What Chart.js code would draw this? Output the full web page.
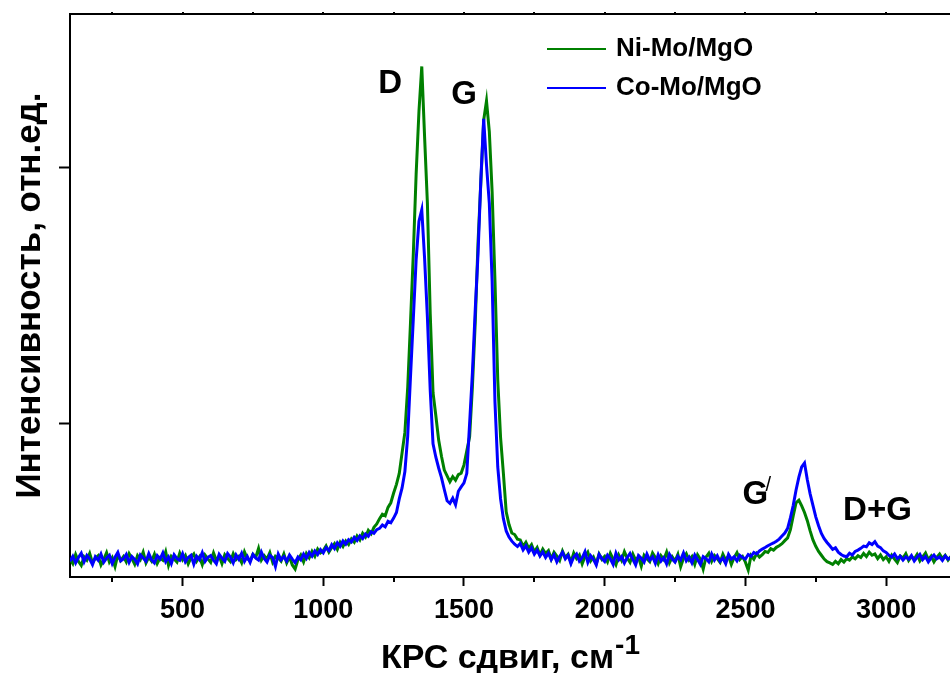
<!DOCTYPE html>
<html lang="ru">
<head>
<meta charset="utf-8">
<title>КРС спектры Ni-Mo/MgO и Co-Mo/MgO</title>
<script src="https://cdn.jsdelivr.net/npm/chart.js@4.4.1/dist/chart.umd.min.js"></script>
<style>
  html, body { margin: 0; padding: 0; background: #fff; overflow: hidden; }
  #wrap { width: 950px; height: 673px; position: relative; }
</style>
</head>
<body>
<div id="wrap"><canvas id="ramanChart"></canvas></div>
<script>
// Сетка сдвига, см-1: от 100 с шагом 10
const shiftStart = 100;
const shiftStep = 10;

const seriesLabels = ['Ni-Mo/MgO', 'Co-Mo/MgO'];

// Интенсивность, отн.ед. (по 10 точек на строку = 100 см-1)
const niMoValues = [
  470, 452, 488, 461, 445, 479, 466, 492, 455, 473,
  483, 447, 469, 495, 458, 476, 441, 487, 464, 480,
  459, 491, 472, 450, 484, 468, 497, 455, 478, 462,
  489, 453, 475, 466, 499, 446, 481, 470, 458, 493,
  467, 484, 451, 476, 490, 462, 479, 448, 486, 471,
  457, 494, 465, 482, 452, 487, 473, 460, 491, 468,
  480, 456, 498, 472, 463, 489, 476, 512, 466, 484,
  470, 495, 458, 481, 474, 462, 490, 455, 479, 447,
  431, 468, 486, 459, 492, 475, 500, 481, 509, 494,
  503, 521, 497, 515, 530, 508, 536, 519, 541, 527,
  549, 536, 560, 545, 571, 556, 582, 569, 594, 607,
  628, 645, 639, 672, 690, 728, 762, 805, 885, 965,
  1140, 1395, 1665, 1975, 2220, 2395, 2120, 1860, 1430, 1120,
  1030, 935, 872, 818, 795, 772, 792, 778, 800, 806,
  838, 893, 948, 1145, 1395, 1710, 1945, 2185, 2260, 2140,
  1905, 1560, 1170, 945, 805, 655, 605, 572, 566, 548,
  545, 520, 536, 512, 527, 498, 515, 486, 509, 492,
  503, 470, 497, 482, 465, 501, 476, 489, 458, 494,
  472, 486, 451, 480, 497, 463, 478, 452, 490, 469,
  481, 459, 493, 470, 448, 486, 465, 499, 474, 457,
  490, 466, 478, 442, 485, 471, 460, 494, 476, 452,
  483, 468, 497, 455, 479, 462, 488, 440, 473, 491,
  466, 480, 449, 487, 470, 431, 478, 493, 461, 484,
  472, 457, 489, 466, 482, 449, 476, 495, 468, 480,
  458, 427, 484, 470, 492, 478, 487, 500, 496, 511,
  505, 516, 522, 530, 542, 553, 585, 640, 690, 700,
  678, 652, 620, 580, 545, 520, 500, 485, 470, 460,
  455, 449, 461, 452, 468, 458, 472, 466, 478, 471,
  483, 476, 492, 480, 497, 485, 490, 472, 486, 468,
  479, 461, 485, 470, 456, 482, 474, 491, 465, 480,
  470, 488, 463, 479, 494, 468, 482, 459, 477, 490,
  472, 485, 466, 481, 474
];

const coMoValues = [
  462, 481, 455, 476, 493, 459, 484, 470, 448, 479,
  466, 490, 458, 474, 485, 452, 477, 496, 463, 471,
  488, 457, 480, 469, 451, 486, 474, 461, 492, 467,
  455, 483, 470, 494, 460, 478, 452, 487, 472, 465,
  491, 459, 476, 485, 450, 481, 468, 495, 461, 477,
  484, 466, 452, 489, 474, 461, 492, 478, 455, 486,
  469, 493, 461, 480, 457, 488, 475, 466, 497, 472,
  458, 485, 476, 441, 490, 467, 479, 462, 486, 470,
  456, 478, 467, 490, 473, 496, 481, 502, 488, 507,
  494, 515, 503, 526, 511, 534, 520, 541, 528, 546,
  537, 555, 543, 561, 550, 568, 559, 577, 571, 585,
  590, 603, 596, 618, 612, 630, 652, 705, 748, 812,
  950, 1185, 1410, 1640, 1790, 1835, 1645, 1415, 1130, 920,
  868, 826, 788, 742, 698, 688, 708, 682, 735, 752,
  768, 805, 1000, 1200, 1445, 1665, 1955, 2190, 2010, 1860,
  1555, 1085, 830, 705, 628, 580, 556, 540, 528, 519,
  531, 506, 522, 497, 514, 489, 505, 482, 498, 476,
  493, 468, 487, 459, 480, 496, 471, 485, 452, 478,
  490, 462, 475, 499, 457, 483, 469, 447, 488, 472,
  460, 485, 471, 449, 493, 467, 480, 455, 476, 492,
  469, 447, 484, 473, 458, 490, 466, 479, 453, 487,
  462, 476, 451, 489, 470, 458, 481, 467, 494, 463,
  478, 455, 486, 468, 449, 480, 472, 459, 490, 466,
  483, 461, 474, 452, 488, 470, 479, 463, 485, 476,
  470, 488, 481, 496, 490, 502, 509, 515, 522, 528,
  533, 540, 548, 560, 572, 590, 632, 680, 740, 790,
  830, 845, 780, 725, 680, 635, 600, 570, 550, 535,
  522, 508, 514, 497, 488, 482, 479, 493, 486, 500,
  505, 512, 521, 518, 534, 527, 538, 521, 515, 502,
  496, 485, 478, 490, 472, 481, 466, 479, 470, 484,
  463, 477, 489, 468, 480, 459, 475, 486, 471, 478,
  465, 482, 470, 476, 468
];

const xTickValues = [500, 1000, 1500, 2000, 2500, 3000];
const xMinorTickValues = [250, 750, 1250, 1750, 2250, 2750];
const yTickValues = [1000, 2000];

const ramanShift = niMoValues.map((_, i) => shiftStart + i * shiftStep);

const FONT = "Arial, 'Liberation Sans', sans-serif";
const GREEN = '#008000';
const BLUE = '#0000ff';

function toPoints(values) {
    return values.map((v, i) => ({ x: ramanShift[i], y: v }));
}

// Рамка сверху, малые риски, легенда, подписи пиков и подпись оси X
const decorations = {
    id: 'decorations',
    afterDraw(chart) {
        const { ctx, chartArea: a, scales: { x, y } } = chart;
        ctx.save();
        ctx.strokeStyle = '#000';
        ctx.lineWidth = 2;

        ctx.beginPath();
        ctx.moveTo(a.left - 1, a.top);
        ctx.lineTo(a.right, a.top);
        ctx.stroke();

        ctx.beginPath();
        xMinorTickValues.forEach(v => {
            const px = Math.round(x.getPixelForValue(v));
            ctx.moveTo(px, a.bottom);
            ctx.lineTo(px, a.bottom + 5);
            ctx.moveTo(px, a.top);
            ctx.lineTo(px, a.top - 2);
        });
        xTickValues.forEach(v => {
            const px = Math.round(x.getPixelForValue(v));
            ctx.moveTo(px, a.top);
            ctx.lineTo(px, a.top - 2);
        });
        ctx.stroke();

        // легенда
        const colors = [GREEN, BLUE];
        ctx.font = `bold 26px ${FONT}`;
        ctx.textBaseline = 'alphabetic';
        ctx.fillStyle = '#000';
        chart.data.datasets.forEach((ds, i) => {
            const ly = 49 + i * 39;
            ctx.strokeStyle = colors[i];
            ctx.lineWidth = 2;
            ctx.beginPath();
            ctx.moveTo(547, ly);
            ctx.lineTo(606, ly);
            ctx.stroke();
            ctx.fillText(ds.label, 616, ly + 7);
        });

        // подписи пиков
        ctx.font = `bold 33px ${FONT}`;
        ctx.textAlign = 'left';
        const peaks = [
            { text: 'D', shift: 1195, level: 2290 },
            { text: 'G', shift: 1455, level: 2250 },
            { text: 'G', shift: 2490, level: 684 },
            { text: 'D+G', shift: 2847, level: 621 }
        ];
        peaks.forEach(p => {
            ctx.fillText(p.text, x.getPixelForValue(p.shift), y.getPixelForValue(p.level));
        });
        // штрих у G'
        ctx.font = `20px ${FONT}`;
        ctx.fillText('/', x.getPixelForValue(2490) + 23, y.getPixelForValue(684) - 13);

        // подпись оси X со степенью
        const main = 'КРС сдвиг, см';
        const sup = '-1';
        ctx.font = `bold 34px ${FONT}`;
        const wMain = ctx.measureText(main).width;
        ctx.font = `bold 28px ${FONT}`;
        const wSup = ctx.measureText(sup).width;
        const cx = (a.left + a.right) / 2;
        const startX = cx - (wMain + wSup) / 2;
        ctx.font = `bold 34px ${FONT}`;
        ctx.fillText(main, startX, 668);
        ctx.font = `bold 28px ${FONT}`;
        ctx.fillText(sup, startX + wMain + 1, 654);

        ctx.restore();
    }
};

const ctx = document.getElementById('ramanChart').getContext('2d');

new Chart(ctx, {
    type: 'line',
    data: {
        datasets: [
            {
                label: seriesLabels[0],
                data: toPoints(niMoValues),
                borderColor: GREEN,
                borderWidth: 3,
                pointRadius: 0,
                tension: 0,
                order: 2
            },
            {
                label: seriesLabels[1],
                data: toPoints(coMoValues),
                borderColor: BLUE,
                borderWidth: 3,
                pointRadius: 0,
                tension: 0,
                order: 1
            }
        ]
    },
    options: {
        responsive: true,
        maintainAspectRatio: false,
        animation: false,
        layout: { padding: { top: 14, right: 0, bottom: 0, left: 0 } },
        plugins: {
            legend: { display: false },
            tooltip: { enabled: false }
        },
        scales: {
            x: {
                type: 'linear',
                min: 100,
                max: 3227,
                afterBuildTicks: scale => {
                    scale.ticks = xTickValues.map(v => ({ value: v }));
                },
                afterFit: scale => { scale.height = 96; },
                border: { color: '#000', width: 2 },
                grid: {
                    drawOnChartArea: false,
                    drawTicks: true,
                    tickLength: 9,
                    tickWidth: 2,
                    tickColor: '#000'
                },
                ticks: {
                    color: '#000',
                    maxRotation: 0,
                    autoSkip: false,
                    padding: 8,
                    callback: value => String(value),
                    font: { family: FONT, size: 27, weight: 'bold' }
                }
            },
            y: {
                min: 400,
                max: 2600,
                afterBuildTicks: scale => {
                    scale.ticks = yTickValues.map(v => ({ value: v }));
                },
                afterFit: scale => { scale.width = 70; },
                border: { color: '#000', width: 2 },
                grid: {
                    drawOnChartArea: false,
                    drawTicks: true,
                    tickLength: 11,
                    tickWidth: 2,
                    tickColor: '#000'
                },
                ticks: { display: false },
                title: {
                    display: true,
                    text: 'Интенсивность, отн.ед.',
                    color: '#000',
                    padding: { top: 9, bottom: 0 },
                    font: { family: FONT, size: 35, weight: 'bold' }
                }
            }
        }
    },
    plugins: [decorations]
});
</script>
</body>
</html>
